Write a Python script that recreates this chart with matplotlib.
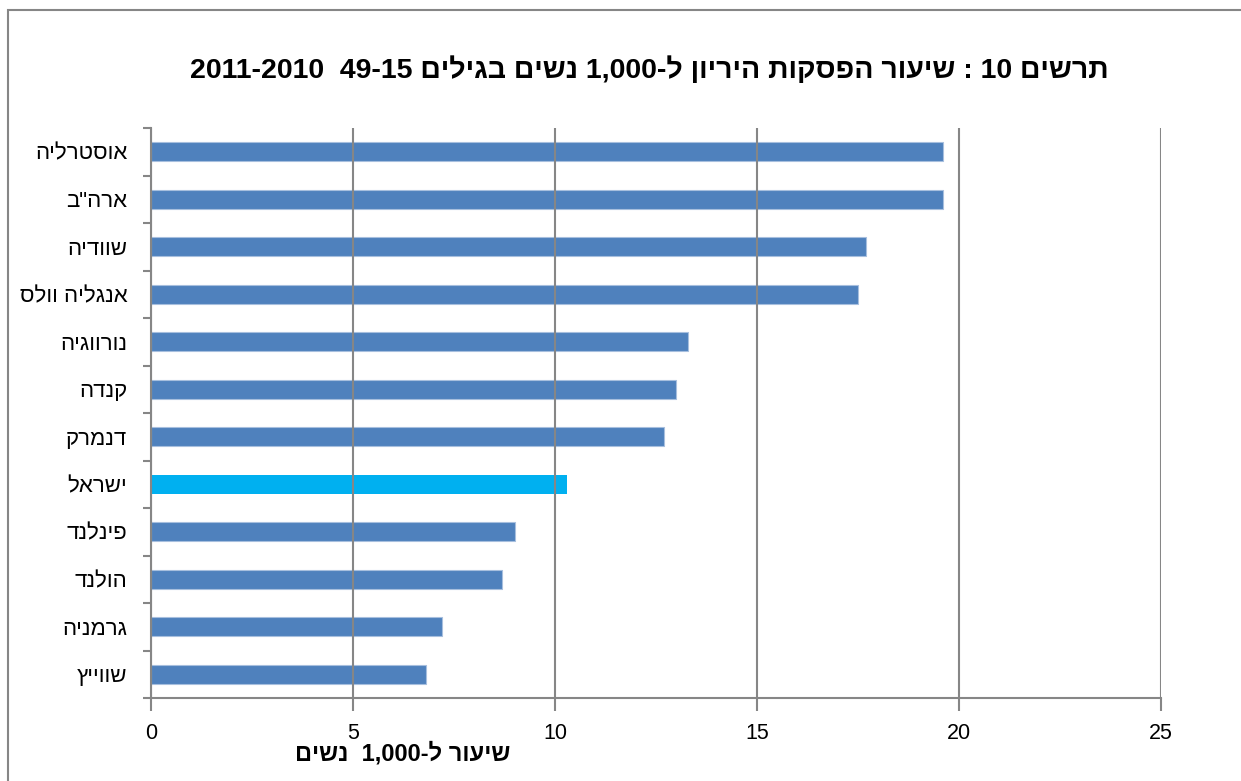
import re
import matplotlib
matplotlib.use("Agg")
import matplotlib.pyplot as plt
from matplotlib.patches import Rectangle
from matplotlib.ticker import FixedLocator

plt.rcParams['font.family'] = ['Liberation Sans', 'DejaVu Sans']

# data, top to bottom
countries = ["אוסטרליה", 'ארה"ב', "שוודיה", "אנגליה וולס", "נורווגיה", "קנדה",
             "דנמרק", "ישראל", "פינלנד", "הולנד", "גרמניה", "שווייץ"]
rates = [19.6, 19.6, 17.7, 17.5, 13.3, 13.0, 12.7, 10.3, 9.0, 8.7, 7.2, 6.8]
highlight = "ישראל"
xticks = [0, 5, 10, 15, 20, 25]

title = "תרשים 10 : שיעור הפסקות היריון ל-1,000 נשים בגילים 15-49  2010-2011"
xlabel = "שיעור ל-1,000  נשים"


def visual(s):
    # matplotlib has no bidi support: flip RTL text, keep numbers readable
    r = s[::-1]
    return re.sub(r"[0-9][0-9,]*", lambda m: m.group(0)[::-1], r)


blue = "#4F81BD"
cyan = "#00B0F0"
grey = "#868686"

fig = plt.figure(figsize=(12.41, 7.81), dpi=100)
ax = fig.add_axes([151 / 1241, 1 - 698 / 781, 1010 / 1241, 570 / 781])

ypos = list(range(len(countries)))
colors = [cyan if c == highlight else blue for c in countries]
edges = ["none" if c == highlight else "#A7BFDE" for c in countries]
ax.barh(ypos, rates, height=0.41, color=colors, edgecolor=edges,
        linewidth=0.8, zorder=2)

ax.set_xlim(0, 25)
ax.set_ylim(len(countries) - 0.5, -0.5)

ax.set_xticks(xticks)
ax.set_xticklabels([str(t) for t in xticks], fontsize=15.5)
ax.xaxis.grid(True, color=grey, linewidth=1.5, zorder=3)
ax.set_axisbelow(False)

ax.set_yticks(ypos)
ax.set_yticklabels([visual(c) for c in countries], fontsize=16)
ax.yaxis.set_minor_locator(FixedLocator([i - 0.5 for i in range(len(countries) + 1)]))

ax.tick_params(axis="y", which="major", length=0, pad=17)
ax.tick_params(axis="y", which="minor", length=6, width=1.5, color=grey)
ax.tick_params(axis="x", which="major", length=9, width=1.5, color=grey, pad=9)

for side in ["top", "right"]:
    ax.spines[side].set_visible(False)
for side in ["left", "bottom"]:
    ax.spines[side].set_color(grey)
    ax.spines[side].set_linewidth(1.5)

fig.text(649 / 1241, 1 - 70 / 781, visual(title), ha="center", va="center",
         fontsize=20.5, fontweight="bold")
fig.text(403 / 1241, 1 - 754 / 781, visual(xlabel), ha="center", va="center",
         fontsize=17, fontweight="bold")

# chart-area border
fig.patches.append(Rectangle((8 / 1241, -0.05), 1.2, 1 - 10.5 / 781 + 0.05,
                             transform=fig.transFigure, fill=False,
                             edgecolor=grey, linewidth=1.5))

fig.savefig("out.png", dpi=100)
